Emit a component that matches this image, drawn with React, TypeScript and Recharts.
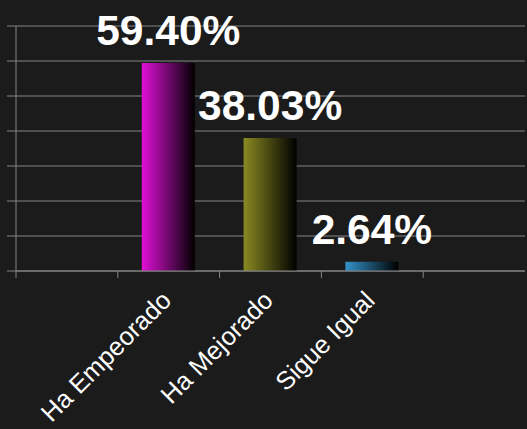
import { Bar, BarChart, CartesianGrid, Cell, LabelList, XAxis, YAxis } from 'recharts';

const categories = ['', 'Ha Empeorado', 'Ha Mejorado', 'Sigue Igual', ' '];
const percentages: (number | null)[] = [null, 59.4, 38.03, 2.64, null];
const yTicks = [0, 10, 20, 30, 40, 50, 60, 70];

const barColors = ['#000000', '#e010d8', '#8a8a22', '#3393cc', '#000000'];

const data = categories.map((name, i) => ({ name, value: percentages[i] }));

const W = 527;
const H = 429;
const margin = { top: 26, right: 2, bottom: 0, left: 0 };
const yAxisWidth = 16;
const band = (W - margin.left - margin.right - yAxisWidth) / categories.length;
const lineColor = '#858585';
const font = '"Liberation Sans", Arial, sans-serif';

function XTick(props: any) {
  const { x, y, payload } = props;
  const left = x - band / 2;
  return (
    <g>
      <line x1={left} y1={y} x2={left} y2={y + 7} stroke={lineColor} strokeWidth={1} />
      <g transform={`translate(${x + 4},${y + 31})`}>
        <text textAnchor="end" transform="rotate(-45)" fill="#ffffff" fontSize={25.5} fontFamily={font}>
          {payload.value}
        </text>
      </g>
    </g>
  );
}

function ValueLabel(props: any) {
  const { x, y, width, value } = props;
  if (value == null) return null;
  return (
    <text
      x={x + width / 2}
      y={y - 18}
      textAnchor="middle"
      fill="#ffffff"
      fontSize={42.5}
      fontWeight="bold"
      fontFamily={font}
    >
      {Number(value).toFixed(2)}%
    </text>
  );
}

export default function App() {
  return (
    <div style={{ position: 'fixed', left: 0, top: 0, width: W, height: H, background: '#1b1b1b' }}>
      <BarChart width={W} height={H} data={data} margin={margin}>
        <defs>
          {barColors.map((c, i) => (
            <linearGradient key={i} id={`grad${i}`} x1="0" y1="0" x2="1" y2="0">
              <stop offset="0%" stopColor={c} />
              <stop offset="100%" stopColor="#000000" />
            </linearGradient>
          ))}
        </defs>
        <CartesianGrid vertical={false} stroke={lineColor} strokeWidth={1} />
        <XAxis
          dataKey="name"
          height={H - 271}
          tickSize={0}
          tickMargin={0}
          tickLine={false}
          axisLine={{ stroke: lineColor }}
          tick={<XTick />}
          interval={0}
        />
        <YAxis
          width={yAxisWidth}
          domain={[0, 70]}
          ticks={yTicks}
          tickSize={9}
          tickLine={{ stroke: lineColor }}
          axisLine={{ stroke: lineColor }}
          tick={() => <g />}
        />
        <Bar dataKey="value" barSize={53} isAnimationActive={false}>
          {data.map((_, i) => (
            <Cell key={i} fill={`url(#grad${i})`} />
          ))}
          <LabelList dataKey="value" content={<ValueLabel />} />
        </Bar>
      </BarChart>
    </div>
  );
}
